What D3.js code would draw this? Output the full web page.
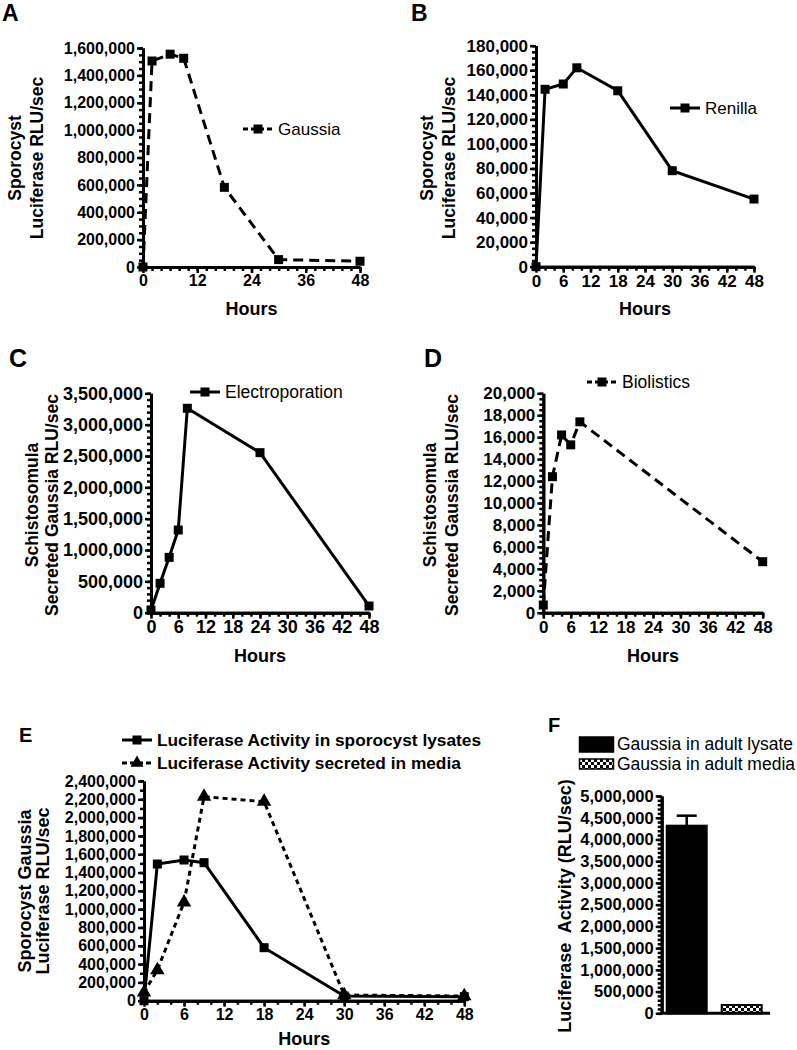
<!DOCTYPE html>
<html>
<head>
<meta charset="utf-8">
<script src="https://cdn.jsdelivr.net/npm/d3@7"></script>
<style>
	body { margin: 0; background: #fff; }
	svg { font-family: 'Liberation Sans', Arial, sans-serif; }
</style>
</head>
<body>
<svg id="chart" width="797" height="1050"></svg>
<script>
// NOTE data
var hoursA = [0, 2, 6, 9, 18, 30, 48];
var gaussiaA = [0, 1505000, 1555000, 1525000, 582000, 54000, 42000];

var hoursB = [0, 2, 6, 9, 18, 30, 48];
var renillaB = [0, 144500, 148800, 162000, 143300, 78200, 55100];

var hoursC = [0, 2, 4, 6, 8, 24, 48];
var electroC = [40000, 469000, 883000, 1319000, 3261000, 2553000, 107000];

var hoursD = [0, 2, 4, 6, 8, 48];
var biolisticsD = [700, 12400, 16200, 15300, 17400, 4650];

var hoursE = [0, 2, 6, 9, 18, 30, 48];
var lysateE = [0, 1493000, 1537000, 1508000, 579000, 51000, 44000];
var mediaE = [90000, 335000, 1075000, 2229000, 2174000, 62000, 51000];

var barCats = ['Gaussia in adult lysate', 'Gaussia in adult media'];
var barVals = [4317000, 191000];
var barErr = [230000, 0];

var svg = d3.select('#chart');

// checker pattern for the media bar
var pat = svg.append('defs').append('pattern')
	.attr('id', 'checker')
	.attr('width', 6).attr('height', 6)
	.attr('patternUnits', 'userSpaceOnUse');
pat.append('rect').attr('width', 6).attr('height', 6).attr('fill', '#000');
pat.append('rect').attr('x', 0).attr('y', 0).attr('width', 3).attr('height', 3).attr('fill', '#fff');
pat.append('rect').attr('x', 3).attr('y', 3).attr('width', 3).attr('height', 3).attr('fill', '#fff');

function styleAxis(sel, fs) {
	sel.select('.domain').attr('stroke', '#000').attr('stroke-width', 3);
	sel.selectAll('.tick line').attr('stroke', '#000').attr('stroke-width', 2.5);
	sel.selectAll('.tick text')
		.attr('fill', '#000')
		.style('font-size', fs + 'px')
		.style('font-weight', 'bold');
}

function marker(g, type, cx, cy, size) {
	if (type == 'square') {
		g.append('rect')
			.attr('x', cx - size / 2).attr('y', cy - size / 2)
			.attr('width', size).attr('height', size)
			.attr('fill', '#000');
	} else {
		g.append('path')
			.attr('d', d3.symbol().type(d3.symbolTriangle).size(size * size * 0.9)())
			.attr('transform', 'translate(' + cx + ',' + cy + ')')
			.attr('fill', '#000');
	}
}

function yTitle(lines, xs, cy, fs) {
	lines.forEach(function (t, i) {
		svg.append('text')
			.attr('transform', 'translate(' + xs[i] + ',' + cy + ') rotate(-90)')
			.attr('text-anchor', 'middle')
			.attr('dy', '0.35em')
			.style('font-size', fs + 'px')
			.style('font-weight', 'bold')
			.style('white-space', 'pre')
			.text(t);
	});
}

function panelLetter(t, x, y, fs) {
	svg.append('text')
		.attr('x', x).attr('y', y)
		.style('font-size', fs + 'px')
		.style('font-weight', 'bold')
		.text(t);
}

// NOTE line panel
function linePanel(p) {
	var x = d3.scaleLinear().domain([0, 48]).range([p.left, p.right]);
	var y = d3.scaleLinear().domain([0, p.yMax]).range([p.bottom, p.top]);
	var g = svg.append('g');

	// minor ticks first
	g.append('g')
		.attr('transform', 'translate(0,' + p.bottom + ')')
		.call(d3.axisBottom(x).tickValues(d3.range(0, 48.01, p.xMinor)).tickSize(4).tickSizeOuter(0).tickFormat(''))
		.call(styleAxis, p.fs);
	g.append('g')
		.attr('transform', 'translate(' + p.left + ',0)')
		.call(d3.axisLeft(y).tickValues(d3.range(0, p.yMax + 1, p.yMinor)).tickSize(4).tickSizeOuter(0).tickFormat(''))
		.call(styleAxis, p.fs);

	// major ticks with labels
	g.append('g')
		.attr('transform', 'translate(0,' + p.bottom + ')')
		.call(d3.axisBottom(x).tickValues(d3.range(0, 48.01, p.xMajor)).tickSize(6).tickSizeOuter(0).tickPadding(2).tickFormat(d3.format('d')))
		.call(styleAxis, p.fs);
	g.append('g')
		.attr('transform', 'translate(' + p.left + ',0)')
		.call(d3.axisLeft(y).tickValues(d3.range(0, p.yMax + 1, p.yMajor)).tickSize(6).tickSizeOuter(0).tickPadding(2).tickFormat(d3.format(',')))
		.call(styleAxis, p.fs);

	// series
	p.series.forEach(function (s) {
		var pts = s.hours.map(function (h, i) { return [x(h), y(s.vals[i])]; });
		g.append('path')
			.attr('d', d3.line()(pts))
			.attr('fill', 'none')
			.attr('stroke', '#000')
			.attr('stroke-width', 3)
			.attr('stroke-dasharray', s.dash || null);
		pts.forEach(function (pt) {
			marker(g, s.marker, pt[0], pt[1], s.marker == 'square' ? 9 : 10);
		});
	});

	// legend
	p.legend.forEach(function (l, i) {
		var s = p.series[i];
		g.append('line')
			.attr('x1', l.x).attr('x2', l.x + 30)
			.attr('y1', l.y).attr('y2', l.y)
			.attr('stroke', '#000').attr('stroke-width', 3)
			.attr('stroke-dasharray', s.dash ? '5,3' : null);
		marker(g, s.marker, l.x + 15, l.y, 9);
		g.append('text')
			.attr('x', l.x + 35).attr('y', l.y + 6)
			.style('font-size', l.fs + 'px')
			.style('font-weight', l.bold ? 'bold' : 'normal')
			.text(s.name);
	});

	// x label
	g.append('text')
		.attr('x', (p.left + p.right) / 2)
		.attr('y', p.hoursY)
		.attr('text-anchor', 'middle')
		.style('font-size', '18px')
		.style('font-weight', 'bold')
		.text('Hours');
}

linePanel({
	left: 143, right: 360, top: 48, bottom: 267,
	yMax: 1600000, yMajor: 200000, yMinor: 50000, xMajor: 12, xMinor: 2, fs: 16, hoursY: 315,
	series: [{ name: 'Gaussia', hours: hoursA, vals: gaussiaA, marker: 'square', dash: '10,6' }],
	legend: [{ x: 243, y: 129, fs: 17 }]
});
yTitle(['Sporocyst', 'Luciferase RLU/sec'], [15, 37], 158, 17.5);
panelLetter('A', 2, 21, 23);

linePanel({
	left: 536, right: 754, top: 45.7, bottom: 266.7,
	yMax: 180000, yMajor: 20000, yMinor: 5000, xMajor: 6, xMinor: 2, fs: 17, hoursY: 315,
	series: [{ name: 'Renilla', hours: hoursB, vals: renillaB, marker: 'square' }],
	legend: [{ x: 670, y: 108, fs: 17 }]
});
yTitle(['Sporocyst', 'Luciferase RLU/sec'], [427, 449], 158, 17.5);
panelLetter('B', 411, 21, 23);

linePanel({
	left: 151, right: 369, top: 393.3, bottom: 612.7,
	yMax: 3500000, yMajor: 500000, yMinor: 100000, xMajor: 6, xMinor: 2, fs: 18, hoursY: 662,
	series: [{ name: 'Electroporation', hours: hoursC, vals: electroC, marker: 'square' }],
	legend: [{ x: 190, y: 392, fs: 17.5 }]
});
yTitle(['Schistosomula', 'Secreted Gaussia RLU/sec'], [32, 52], 505, 17.5);
panelLetter('C', 9, 367, 25);

linePanel({
	left: 543.3, right: 762.7, top: 393.3, bottom: 612.7,
	yMax: 20000, yMajor: 2000, yMinor: 500, xMajor: 6, xMinor: 2, fs: 17, hoursY: 662,
	series: [{ name: 'Biolistics', hours: hoursD, vals: biolisticsD, marker: 'square', dash: '10,6' }],
	legend: [{ x: 587, y: 382, fs: 17.5 }]
});
yTitle(['Schistosomula', 'Secreted Gaussia RLU/sec'], [430, 452], 505, 17.5);
panelLetter('D', 424, 367, 25);

linePanel({
	left: 144, right: 464.3, top: 781, bottom: 1000.7,
	yMax: 2400000, yMajor: 200000, yMinor: 100000, xMajor: 6, xMinor: 2, fs: 16, hoursY: 1045,
	series: [
		{ name: 'Luciferase Activity in sporocyst lysates', hours: hoursE, vals: lysateE, marker: 'square' },
		{ name: 'Luciferase Activity secreted in media', hours: hoursE, vals: mediaE, marker: 'triangle', dash: '5,4' }
	],
	legend: [{ x: 122, y: 740, fs: 17.3, bold: true }, { x: 122, y: 763, fs: 17.3, bold: true }]
});
yTitle(['Sporocyst Gaussia', 'Luciferase RLU/sec'], [25, 43], 891, 18);
panelLetter('E', 19, 742, 20);

// NOTE bar panel F
var yF = d3.scaleLinear().domain([0, 5000000]).range([1013.3, 796]);
var xF = d3.scaleBand().domain(barCats).range([661.7, 766.7]).paddingInner(0.273).paddingOuter(0.091);
var gF = svg.append('g');

gF.append('g')
	.attr('transform', 'translate(661.7,0)')
	.call(d3.axisLeft(yF).tickValues(d3.range(0, 5000001, 100000)).tickSize(4).tickSizeOuter(0).tickFormat(''))
	.call(styleAxis, 16.5);
gF.append('g')
	.attr('transform', 'translate(661.7,0)')
	.call(d3.axisLeft(yF).tickValues(d3.range(0, 5000001, 500000)).tickSize(6).tickSizeOuter(0).tickPadding(2).tickFormat(d3.format(',')))
	.call(styleAxis, 16.5);

gF.selectAll('.bar')
	.data(barCats)
	.enter()
	.append('rect')
	.attr('class', 'bar')
	.attr('x', function (d) { return xF(d); })
	.attr('y', function (d, i) { return yF(barVals[i]); })
	.attr('width', xF.bandwidth())
	.attr('height', function (d, i) { return yF(0) - yF(barVals[i]); })
	.attr('fill', function (d, i) { return i == 0 ? '#000' : 'url(#checker)'; })
	.attr('stroke', '#000')
	.attr('stroke-width', 2);

// error bar
barCats.forEach(function (d, i) {
	if (!barErr[i]) return;
	var cx = xF(d) + xF.bandwidth() / 2;
	gF.append('line')
		.attr('x1', cx).attr('x2', cx)
		.attr('y1', yF(barVals[i])).attr('y2', yF(barVals[i] + barErr[i]))
		.attr('stroke', '#000').attr('stroke-width', 2.5);
	gF.append('line')
		.attr('x1', cx - 10).attr('x2', cx + 10)
		.attr('y1', yF(barVals[i] + barErr[i])).attr('y2', yF(barVals[i] + barErr[i]))
		.attr('stroke', '#000').attr('stroke-width', 2.5);
});

// x baseline
gF.append('line')
	.attr('x1', 660).attr('x2', 770)
	.attr('y1', yF(0)).attr('y2', yF(0))
	.attr('stroke', '#000').attr('stroke-width', 3);

// legend F
var legF = [{ y: 737, h: 15, fill: '#000' }, { y: 759, h: 10, fill: 'url(#checker)' }];
barCats.forEach(function (d, i) {
	gF.append('rect')
		.attr('x', 579.5).attr('y', legF[i].y)
		.attr('width', 34).attr('height', legF[i].h)
		.attr('fill', legF[i].fill)
		.attr('stroke', '#000').attr('stroke-width', 1.5);
	gF.append('text')
		.attr('x', 617).attr('y', i == 0 ? 750 : 770)
		.style('font-size', '17.5px')
		.text(d);
});

yTitle(['Luciferase  Activity (RLU/sec)'], [565], 906, 18);
panelLetter('F', 548, 732, 20);
</script>
</body>
</html>
